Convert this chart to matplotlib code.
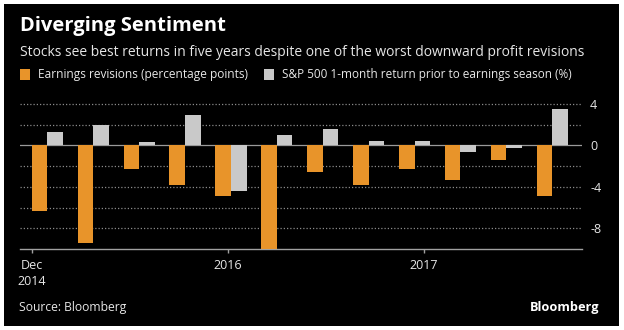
import numpy as np
import matplotlib
matplotlib.use("Agg")
import matplotlib.pyplot as plt
from matplotlib.patches import Rectangle

# quarterly series, Dec 2014 onwards
earnings_rev = [-6.3, -9.4, -2.3, -3.8, -4.9, -10.1, -2.6, -3.8, -2.3, -3.3, -1.4, -4.9]
spx_return = [1.3, 2.0, 0.3, 2.9, -4.4, 1.0, 1.6, 0.4, 0.4, -0.6, -0.2, 3.5]
xtick_pos = [0.0, 4.27, 8.54]
xtick_labels = ["Dec\n2014", "2016", "2017"]
ytick_vals = [4, 0, -4, -8]

orange = "#E8942A"
grey = "#C9C9C9"
txt = "#E6E6E6"

plt.rcParams["font.family"] = ["Open Sans", "DejaVu Sans"]

W, H = 624, 330
fig = plt.figure(figsize=(W / 100, H / 100), dpi=100, facecolor="white")

# black card with a thin white margin
fig.patches.append(Rectangle((4 / W, 4 / H), 615 / W, 322 / H,
                             transform=fig.transFigure, facecolor="black",
                             edgecolor="none", zorder=-5))

ax = fig.add_axes([20 / W, 1 - 249 / H, 561.7 / W, 150.6 / H])
ax.set_facecolor("none")
ax.set_zorder(2)

x = np.arange(len(earnings_rev))
w = 0.34
ax.bar(x, earnings_rev, width=w, align="edge", color=orange, zorder=3)
ax.bar(x + w, spx_return, width=w, align="edge", color=grey, zorder=3)

ax.set_xlim(-0.255, 11.98)
ax.set_ylim(-10, 4.55)

for g in [-8, -6, -4, -2, 2, 4]:
    ax.axhline(g, color="#8A8A8A", lw=0.9, ls=(0, (1, 1.6)), zorder=1)
ax.axhline(0, color="#9A9A9A", lw=0.9, zorder=2)

for s in ["top", "left", "right"]:
    ax.spines[s].set_visible(False)
ax.spines["bottom"].set_color("#A0A0A0")
ax.spines["bottom"].set_linewidth(1.0)

ax.set_xticks(xtick_pos)
ax.set_xticklabels(xtick_labels, color=txt, fontsize=9, linespacing=1.35)
ax.tick_params(axis="x", colors="#A0A0A0", length=3, width=1, pad=4,
               labelcolor=txt)

ax.yaxis.tick_right()
ax.set_yticks(ytick_vals)
ax.set_yticklabels([str(v) for v in ytick_vals], color=txt, fontsize=9)
ax.tick_params(axis="y", length=0, pad=6)

# header
fig.text(20 / W, 1 - 31 / H, "Diverging Sentiment", color="white",
         fontsize=14.5, fontweight="bold", va="baseline")
fig.text(20 / W, 1 - 56.5 / H,
         "Stocks see best returns in five years despite one of the worst downward profit revisions",
         color=txt, fontsize=10, va="baseline")

# legend
fig.patches.append(Rectangle((20 / W, 1 - 80 / H), 10 / W, 11 / H,
                             transform=fig.transFigure, facecolor=orange,
                             edgecolor="none"))
fig.text(38 / W, 1 - 74.5 / H, "Earnings revisions (percentage points)",
         color=txt, fontsize=8.6, va="center")
fig.patches.append(Rectangle((264 / W, 1 - 80 / H), 10 / W, 11 / H,
                             transform=fig.transFigure, facecolor=grey,
                             edgecolor="none"))
fig.text(282 / W, 1 - 74.5 / H, "S&P 500 1-month return prior to earnings season (%)",
         color=txt, fontsize=8.5, va="center")

# footer
fig.text(19 / W, 1 - 307 / H, "Source: Bloomberg", color=txt, fontsize=8.7,
         va="center")
fig.text(599 / W, 1 - 307 / H, "Bloomberg", color="white", fontsize=9.2,
         fontweight="bold", ha="right", va="center")

fig.savefig("out.png", dpi=100, facecolor="white")
